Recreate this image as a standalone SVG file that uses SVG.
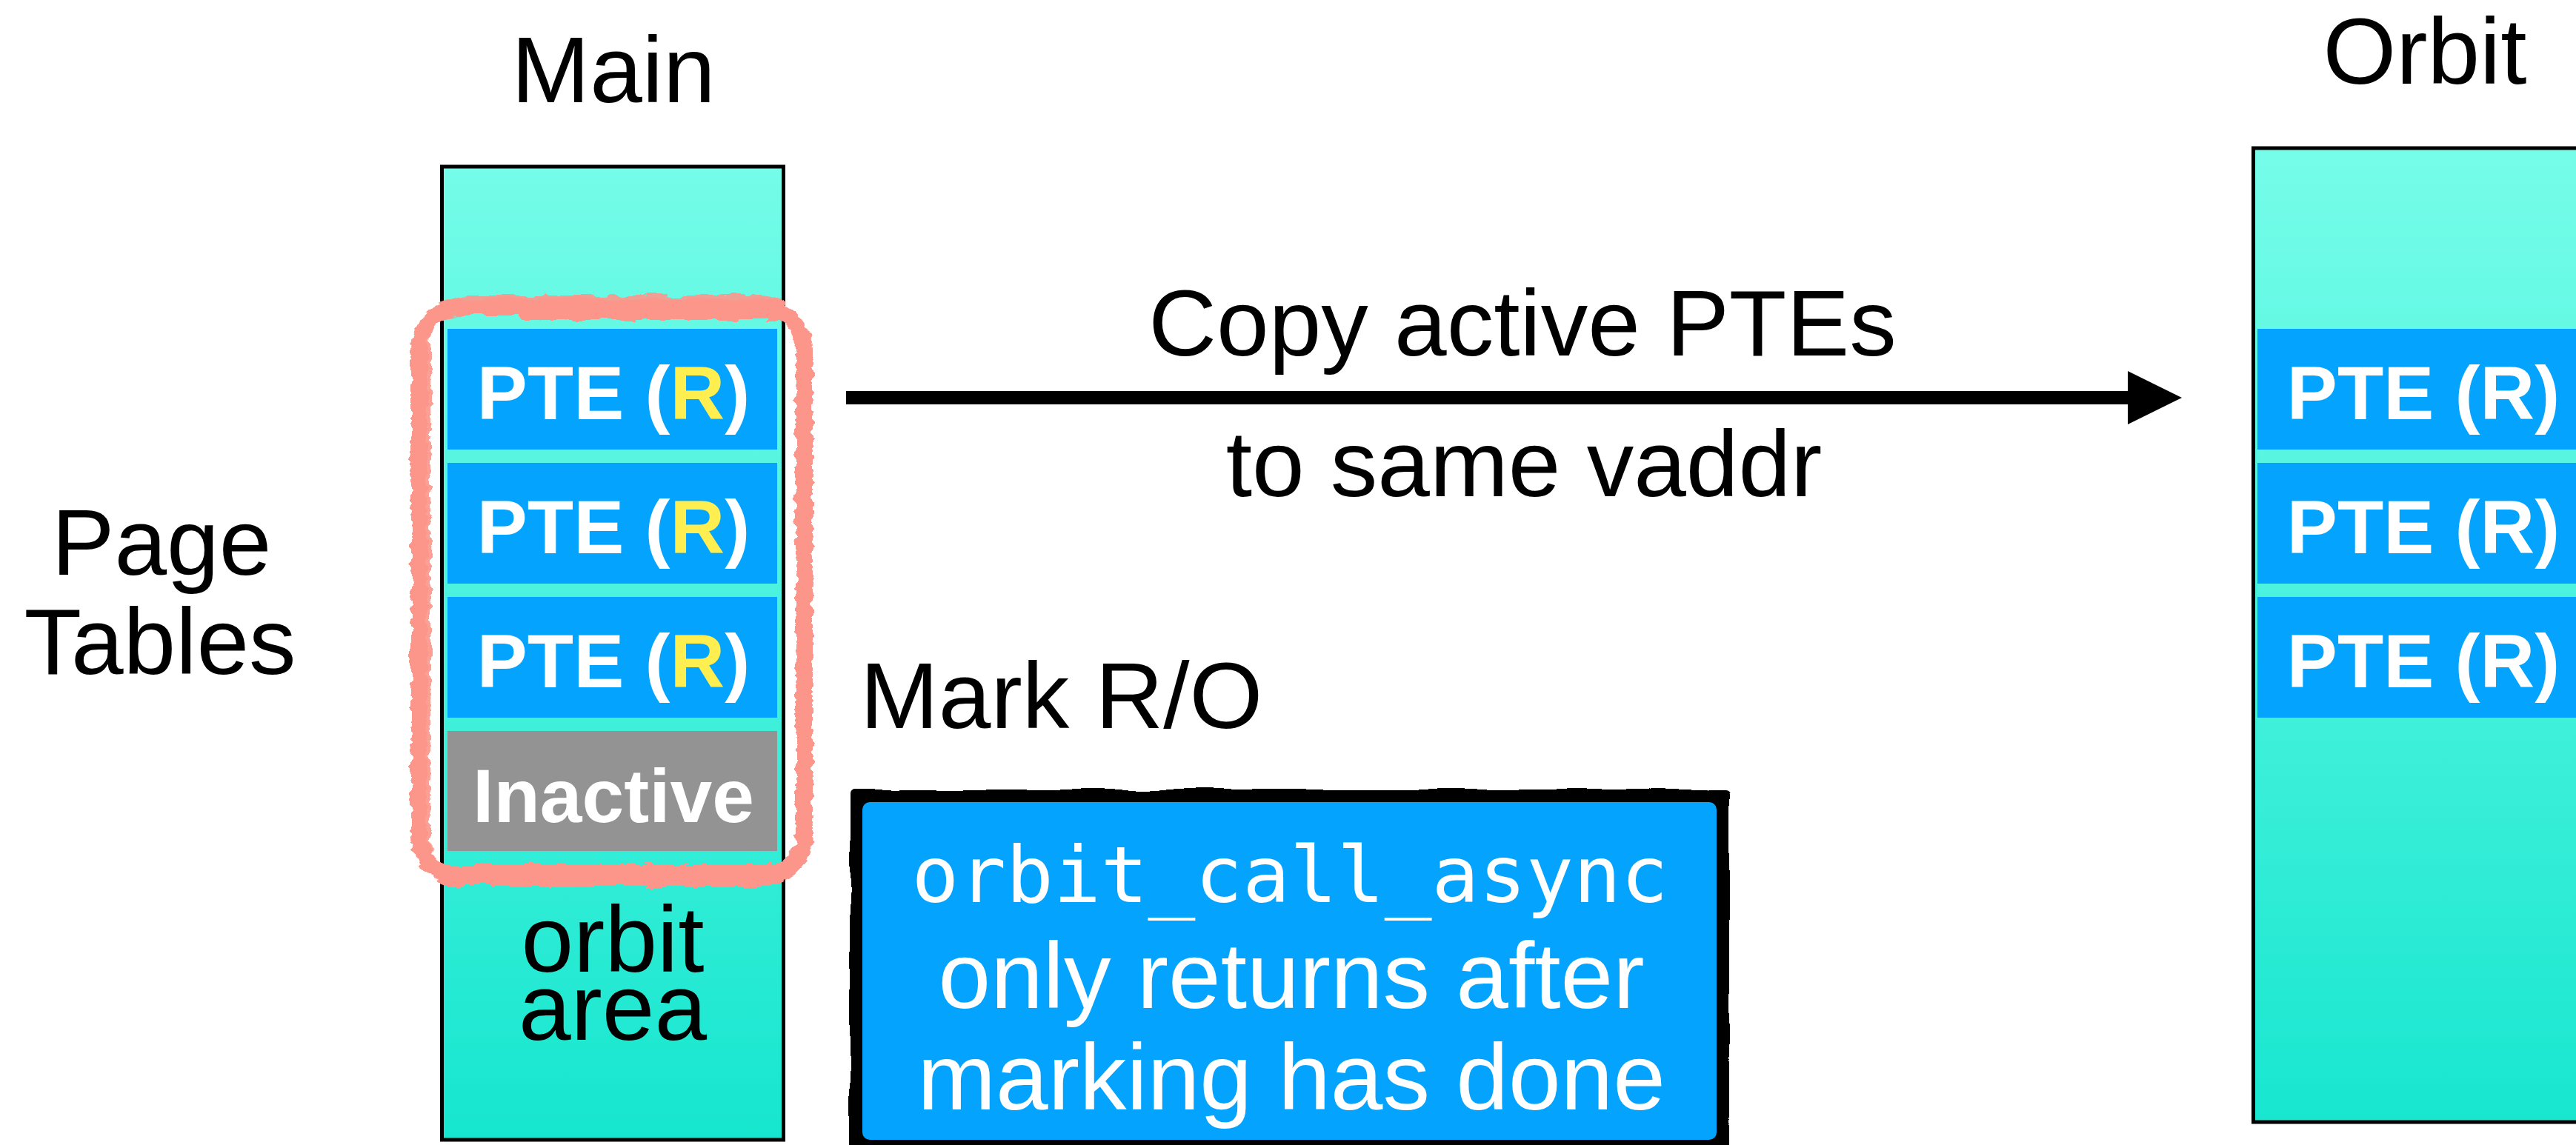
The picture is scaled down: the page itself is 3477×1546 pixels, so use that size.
<svg xmlns="http://www.w3.org/2000/svg" width="3477" height="1546" viewBox="0 0 3477 1546">
  <style>
    .sans { font-family: "Liberation Sans", Arial, Helvetica, sans-serif; }
    .mono { font-family: "DejaVu Sans Mono", "Liberation Mono", monospace; }
    .label { font-size: 127px; fill: #000; }
    .col { fill: url(#aqua); stroke: #000; stroke-width: 5; }
    .pte { fill: #04A4FE; }
    .idle { fill: #939393; }
    .cell { font-size: 102px; font-weight: bold; fill: #fff; }
    .hot { fill: #FFEE50; }
    .note { font-size: 127px; fill: #fff; }
    .brush { fill: none; stroke: #FC968B; stroke-linejoin: round; }
  </style>
  <defs>
    <linearGradient id="aqua" gradientUnits="userSpaceOnUse" x1="0" y1="200" x2="0" y2="1540">
      <stop offset="0" stop-color="#76FDE9"/>
      <stop offset="1" stop-color="#16E6CF"/>
    </linearGradient>
    <!-- rough brush edge for the highlight loop -->
    <filter id="brushy" x="-10%" y="-10%" width="120%" height="120%">
      <feTurbulence type="fractalNoise" baseFrequency="0.03 0.09" numOctaves="3" seed="4" result="n"/>
      <feDisplacementMap in="SourceGraphic" in2="n" scale="12" xChannelSelector="R" yChannelSelector="G"/>
    </filter>
    <!-- slight hand-drawn wobble for the callout frame -->
    <filter id="wobble" x="-5%" y="-10%" width="110%" height="120%">
      <feTurbulence type="fractalNoise" baseFrequency="0.012" numOctaves="2" seed="7" result="n"/>
      <feDisplacementMap in="SourceGraphic" in2="n" scale="9" xChannelSelector="R" yChannelSelector="G"/>
    </filter>
  </defs>

  <rect width="3477" height="1546" fill="#fff"/>

  <!-- side label -->
  <g id="page-tables-label" class="sans label">
    <text x="218" y="776" text-anchor="middle">Page</text>
    <text x="216" y="910" text-anchor="middle">Tables</text>
  </g>

  <!-- Main page table column -->
  <g id="main">
    <text class="sans label" x="828" y="138" text-anchor="middle">Main</text>
    <rect class="col" x="596.5" y="225" width="461" height="1314"/>
    <rect class="pte" x="604" y="444" width="445" height="163"/>
    <rect class="pte" x="604" y="625" width="445" height="163"/>
    <rect class="pte" x="604" y="806" width="445" height="163"/>
    <rect class="idle" x="604" y="987" width="445" height="162"/>
    <text class="sans cell" x="828" y="566" text-anchor="middle">PTE (<tspan class="hot">R</tspan>)</text>
    <text class="sans cell" x="828" y="747" text-anchor="middle">PTE (<tspan class="hot">R</tspan>)</text>
    <text class="sans cell" x="828" y="928" text-anchor="middle">PTE (<tspan class="hot">R</tspan>)</text>
    <text class="sans cell" x="828" y="1110" text-anchor="middle" font-size="101">Inactive</text>
    <text class="sans label" x="827" y="1312" text-anchor="middle" font-size="128">orbit</text>
    <text class="sans label" x="827" y="1404" text-anchor="middle" font-size="128">area</text>
  </g>

  <!-- highlight loop round the live entries -->
  <g id="highlight" filter="url(#brushy)">
    <rect class="brush" x="562" y="410" width="528" height="780" rx="62" stroke-width="14"/>
    <rect class="brush" x="570" y="420" width="510" height="758" rx="52" stroke-width="12"/>
    <rect class="brush" x="576" y="404" width="506" height="788" rx="58" stroke-width="10" opacity="0.9"/>
    <rect class="brush" x="566" y="414" width="518" height="772" rx="56" stroke-width="8" opacity="0.85"/>
    <path class="brush" d="M700 420 H1050" stroke-width="24"/>
    <path class="brush" d="M640 1176 H1040" stroke-width="18"/>
  </g>

  <!-- Orbit page table column -->
  <g id="orbit">
    <text class="sans label" x="3273" y="113" text-anchor="middle">Orbit</text>
    <rect class="col" x="3041.5" y="200" width="480" height="1315"/>
    <rect class="pte" x="3047" y="444" width="440" height="163"/>
    <rect class="pte" x="3047" y="625" width="440" height="163"/>
    <rect class="pte" x="3047" y="806" width="440" height="163"/>
    <text class="sans cell" x="3271" y="566" text-anchor="middle">PTE (R)</text>
    <text class="sans cell" x="3271" y="747" text-anchor="middle">PTE (R)</text>
    <text class="sans cell" x="3271" y="928" text-anchor="middle">PTE (R)</text>
  </g>

  <!-- step label -->
  <g id="mark-label">
    <text class="sans label" x="1161" y="983">Mark R/O</text>
  </g>

  <!-- callout -->
  <g id="note">
    <rect x="1147" y="1066" width="1187" height="500" rx="6" fill="#000" filter="url(#wobble)"/>
    <rect x="1164" y="1083" width="1153" height="456" rx="10" fill="#04A4FE"/>
    <text class="mono" x="1741" y="1218" text-anchor="middle" font-size="106" fill="#fff">orbit_call_async</text>
    <text class="sans note" x="1743" y="1361" text-anchor="middle">only returns after</text>
    <text class="sans note" x="1743" y="1498" text-anchor="middle">marking has done</text>
  </g>

  <!-- connectors -->
  <g id="connectors">
    <line x1="1142" y1="537" x2="2876" y2="537" stroke="#000" stroke-width="18"/>
    <polygon points="2872,501 2945,537 2872,573" fill="#000"/>
    <text class="sans label" x="2055" y="480" text-anchor="middle" font-size="125">Copy active PTEs</text>
    <text class="sans label" x="2057" y="670" text-anchor="middle" font-size="125">to same vaddr</text>
  </g>
</svg>
